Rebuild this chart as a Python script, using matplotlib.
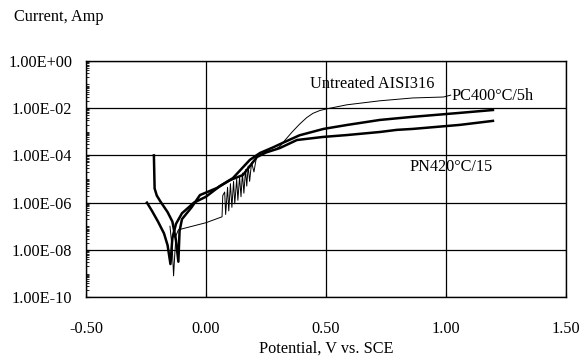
import numpy as np
import matplotlib
matplotlib.use('Agg')
import matplotlib.pyplot as plt
from matplotlib.ticker import FuncFormatter, LogLocator, FixedLocator

# thin curve (ends at the PC400 label)
thin_x = [-0.15, -0.14, -0.135, -0.13, -0.125, -0.115, 0.0, 0.067,
          0.07, 0.078, 0.082, 0.09, 0.095, 0.102, 0.108, 0.115, 0.12,
          0.128, 0.133, 0.14, 0.146, 0.152, 0.158, 0.165, 0.17, 0.176,
          0.182, 0.19, 0.20, 0.21, 0.22, 0.235,
          0.25, 0.29, 0.31, 0.33, 0.36, 0.39, 0.42, 0.446, 0.475, 0.504,
          0.587, 0.725, 0.862, 0.99, 1.02]
thin_log = [-7.0, -8.0, -9.1, -8.2, -7.4, -7.15, -6.85, -6.6,
            -5.7, -5.55, -6.5, -5.35, -6.35, -5.2, -6.2, -5.1, -6.05,
            -5.0, -5.9, -4.9, -5.75, -4.75, -5.6, -4.6, -5.3, -4.45,
            -5.1, -4.3, -4.7, -4.1, -4.0, -3.95,
            -3.85, -3.75, -3.6, -3.35, -3.0, -2.68, -2.4, -2.22, -2.1, -2.03,
            -1.86, -1.69, -1.57, -1.53, -1.45]

# thick curve starting at 1e-4
upper_x = [-0.217, -0.214, -0.205, -0.19, -0.16, -0.14, -0.125, -0.115, -0.11,
           -0.10, -0.06, -0.025, 0.046, 0.1125, 0.15, 0.183, 0.225, 0.28,
           0.32, 0.39, 0.49, 0.59, 0.725, 0.86, 1.06, 1.196]
upper_log = [-4.0, -5.4, -5.7, -5.95, -6.4, -6.8, -7.6, -8.5, -7.2,
             -6.7, -6.2, -5.68, -5.38, -4.96, -4.55, -4.19, -3.9, -3.66,
             -3.47, -3.15, -2.88, -2.71, -2.5, -2.37, -2.2, -2.08]

# thick curve starting at 1e-6
lower_x = [-0.246, -0.225, -0.2, -0.175, -0.16, -0.148, -0.14, -0.125, -0.10,
           -0.05, 0.0, 0.058, 0.10, 0.154, 0.2125, 0.25, 0.308, 0.379,
           0.4875, 0.5875, 0.725, 0.796, 0.8625, 1.058, 1.196]
lower_log = [-6.0, -6.35, -6.8, -7.3, -7.8, -8.6, -7.5, -6.9, -6.45,
             -6.0, -5.75, -5.3, -5.05, -4.83, -4.07, -3.88, -3.69, -3.35,
             -3.22, -3.14, -3.01, -2.92, -2.88, -2.71, -2.54]

plt.rcParams['font.family'] = ['Liberation Serif', 'DejaVu Serif']
fs = 11.7

fig = plt.figure(figsize=(5.81, 3.58), dpi=100)
ax = fig.add_axes([0.148, 0.170, 0.826, 0.660])

ax.plot(thin_x, 10 ** np.array(thin_log), color='black', lw=0.7)
ax.plot(upper_x, 10 ** np.array(upper_log), color='black', lw=1.8)
ax.plot(lower_x, 10 ** np.array(lower_log), color='black', lw=1.8)

ax.set_yscale('log')
ax.set_xlim(-0.5, 1.5)
ax.set_ylim(1e-10, 1)
ax.xaxis.set_major_locator(FixedLocator([-0.5, 0.0, 0.5, 1.0, 1.5]))
ax.yaxis.set_major_locator(FixedLocator([1e-10, 1e-8, 1e-6, 1e-4, 1e-2, 1]))
ax.yaxis.set_minor_locator(LogLocator(base=10, subs=np.arange(1, 10) * 1.0, numticks=50))
ax.yaxis.set_major_formatter(FuncFormatter(lambda v, p: f'{v:.2E}'))
ax.yaxis.set_minor_formatter(FuncFormatter(lambda v, p: ''))
ax.xaxis.set_major_formatter(FuncFormatter(lambda v, p: f'{v:.2f}'))

ax.grid(True, which='major', color='black', lw=0.9)
ax.tick_params(axis='y', which='major', direction='in', length=3, labelsize=fs, pad=10)
ax.tick_params(axis='x', which='major', direction='in', length=3, labelsize=fs, pad=17)
ax.tick_params(axis='y', which='minor', direction='in', length=2)
for s in ax.spines.values():
    s.set_linewidth(1.0)

ax.text(0.433, 10 ** -1.0, 'Untreated AISI316', fontsize=fs, va='center', ha='left')
ax.text(1.025, 10 ** -1.48, 'PC400°C/5h', fontsize=fs, va='center', ha='left')
ax.text(0.85, 10 ** -4.5, 'PN420°C/15', fontsize=fs, va='center', ha='left')

fig.text(0.024, 0.952, 'Current, Amp', fontsize=fs, ha='left', va='center')
fig.text(0.562, 0.027, 'Potential, V vs. SCE', fontsize=fs, ha='center', va='center')

fig.savefig('out.png', dpi=100)
